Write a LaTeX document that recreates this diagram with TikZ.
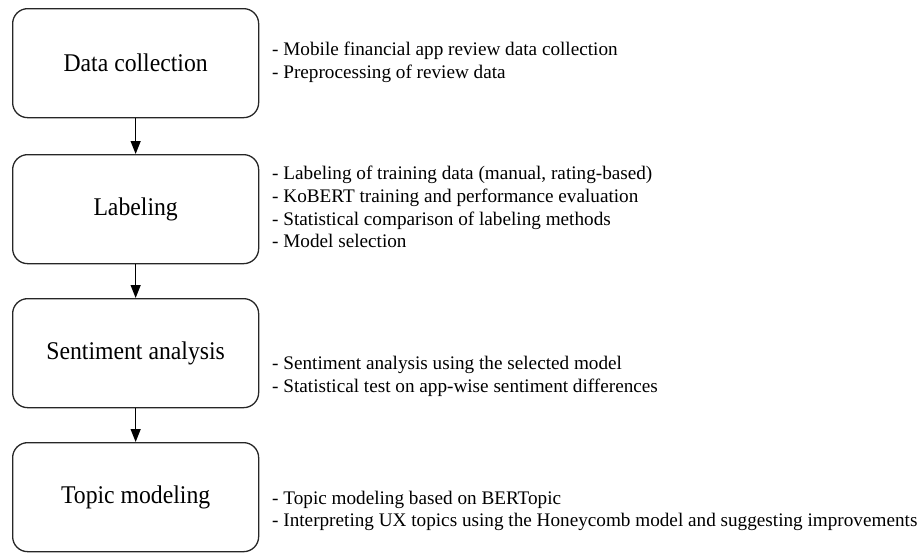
\documentclass[tikz,border=0pt]{standalone}
\usepackage{fontspec}
\setmainfont{Liberation Serif}
\newfontfamily\stagefont{Liberation Serif}[FakeStretch=0.93]
\usetikzlibrary{arrows.meta}
\begin{document}
\begin{tikzpicture}[x=1pt,y=-1pt,
  stage/.style={draw=black!85, line width=1.3pt, rounded corners=15pt, minimum width=246pt, minimum height=109pt, inner sep=0pt, font=\stagefont\fontsize{25.5}{30}\selectfont, anchor=north west},
  desc/.style={anchor=west, align=left, inner sep=0pt, font=\fontsize{19.2}{22.8}\selectfont},
  flow/.style={line width=1.3pt, -{Triangle[length=13pt,width=10pt]}}]
\useasboundingbox (0,0) rectangle (921,552);
\node[stage] (s1) at (12,8) {Data collection};
\node[stage] (s2) at (12,154) {Labeling};
\node[stage] (s3) at (12,298) {Sentiment analysis};
\node[stage] (s4) at (12,442) {Topic modeling};
\node[desc] (d1) at (272,62) {- Mobile financial app review data collection\\- Preprocessing of review data};
\node[desc] (d2) at (272,207) {- Labeling of training data (manual, rating-based)\\- KoBERT training and performance evaluation\\- Statistical comparison of labeling methods\\- Model selection};
\node[desc] (d3) at (272,376) {- Sentiment analysis using the selected model\\- Statistical test on app-wise sentiment differences};
\node[desc] (d4) at (272,511) {- Topic modeling based on BERTopic\\- Interpreting UX topics using the Honeycomb model and suggesting improvements};
\draw[flow] (s1) -- (s2);
\draw[flow] (s2) -- (s3);
\draw[flow] (s3) -- (s4);
\end{tikzpicture}
\end{document}
